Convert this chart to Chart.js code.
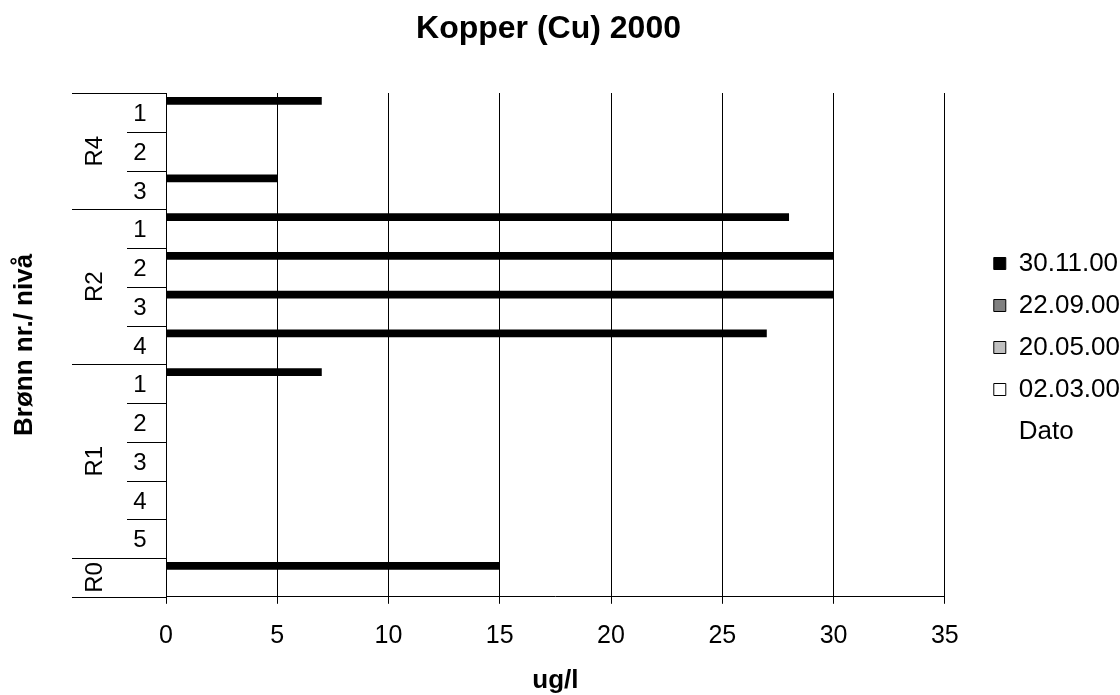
<!DOCTYPE html>
<html>
<head>
<meta charset="utf-8">
<script src="https://cdn.jsdelivr.net/npm/chart.js@4"></script>
<style>
  html, body { margin: 0; padding: 0; background: #fff; }
  canvas { display: block; }
</style>
</head>
<body>
<canvas id="chartKopper" width="1120" height="695"></canvas>
<script>
const wells = ['R4', 'R4', 'R4', 'R2', 'R2', 'R2', 'R2', 'R1', 'R1', 'R1', 'R1', 'R1', 'R0'];
const levels = ['1', '2', '3', '1', '2', '3', '4', '1', '2', '3', '4', '5', ''];
const dates = ['30.11.00', '22.09.00', '20.05.00', '02.03.00'];
const cu301100 = [7, null, 5, 28, 30, 30, 27, 7, null, null, null, null, 15];
const cu220900 = [null, null, null, null, null, null, null, null, null, null, null, null, null];
const cu200500 = [null, null, null, null, null, null, null, null, null, null, null, null, null];
const cu020300 = [null, null, null, null, null, null, null, null, null, null, null, null, null];
const colors = ['#000000', '#808080', '#c0c0c0', '#ffffff'];

Chart.defaults.font.family = '"Liberation Sans", Arial, sans-serif';
Chart.defaults.color = '#000';

const canvas = document.getElementById('chartKopper');
const labels = wells.map((w, i) => w + ' ' + levels[i]);
const series = [cu301100, cu220900, cu200500, cu020300];

// two-level category axis (well + level) and legend placement
const wellAxis = {
    id: 'wellAxis',
    afterLayout(chart) {
        const lg = chart.legend;
        const w = lg.width;
        lg.left = chart.chartArea.right + 33;
        lg.right = lg.left + w;
    },
    afterDraw(chart) {
        const y = chart.scales.y;
        const area = chart.chartArea;
        const ctx = chart.ctx;
        const half = (y.getPixelForValue(1) - y.getPixelForValue(0)) / 2;
        const line = (x0, yy) => {
            const py = Math.round(yy) + 0.5;
            ctx.beginPath();
            ctx.moveTo(x0, py);
            ctx.lineTo(area.left, py);
            ctx.stroke();
        };
        ctx.save();
        ctx.strokeStyle = '#000';
        ctx.lineWidth = 1;
        ctx.fillStyle = '#000';
        ctx.font = '24px "Liberation Sans", Arial, sans-serif';
        ctx.textAlign = 'center';
        ctx.textBaseline = 'middle';
        let start = 0;
        wells.forEach((w, i) => {
            const c = y.getPixelForValue(i);
            if (levels[i]) ctx.fillText(levels[i], area.left - 26, c + 2);
            if (i > 0 && w === wells[i - 1]) line(area.left - 39, c - half);
            if (i === wells.length - 1 || wells[i + 1] !== w) {
                const top = y.getPixelForValue(start) - half;
                const bottom = c + half;
                line(area.left - 94, top);
                if (i === wells.length - 1) line(area.left - 94, bottom);
                ctx.save();
                ctx.translate(area.left - 71, (top + bottom) / 2);
                ctx.rotate(-Math.PI / 2);
                ctx.fillText(w, 0, 0);
                ctx.restore();
                start = i + 1;
            }
        });
        ctx.restore();
    }
};

new Chart(canvas, {
    type: 'bar',
    data: {
        labels: labels,
        datasets: dates.map((d, i) => ({
            label: d,
            data: series[i],
            backgroundColor: colors[i],
            borderColor: '#000',
            borderWidth: 0,
            barPercentage: 1,
            categoryPercentage: 0.8
        }))
    },
    options: {
        indexAxis: 'y',
        responsive: false,
        animation: false,
        devicePixelRatio: 1,
        layout: { padding: { left: 0, right: 23, top: 0, bottom: 0 } },
        plugins: {
            title: {
                display: true,
                text: 'Kopper (Cu) 2000',
                color: '#000',
                font: { size: 32, weight: 'bold' },
                padding: { top: 10, bottom: 44.6 }
            },
            legend: {
                position: 'right',
                labels: {
                    color: '#000',
                    font: { size: 26 },
                    boxWidth: 12,
                    boxHeight: 12,
                    padding: 16,
                    generateLabels(chart) {
                        const items = Chart.defaults.plugins.legend.labels.generateLabels(chart);
                        items.forEach(it => { it.strokeStyle = '#000'; it.lineWidth = 1; });
                        items.push({ text: 'Dato', fillStyle: 'rgba(0,0,0,0)', strokeStyle: 'rgba(0,0,0,0)', lineWidth: 0, hidden: false });
                        return items;
                    }
                }
            },
            tooltip: { enabled: false }
        },
        scales: {
            x: {
                min: 0,
                max: 35,
                ticks: { stepSize: 5, color: '#000', font: { size: 25 }, padding: 17 },
                grid: { color: '#000', lineWidth: 1, tickLength: 7 },
                border: { display: true, color: '#000' },
                title: {
                    display: true,
                    text: 'ug/l',
                    color: '#000',
                    font: { size: 26, weight: 'bold' },
                    padding: { top: -3, bottom: -1 }
                }
            },
            y: {
                grid: { display: false },
                border: { display: false },
                ticks: { display: false },
                title: {
                    display: true,
                    text: 'Brønn nr./ nivå',
                    color: '#000',
                    font: { size: 26, weight: 'bold' },
                    padding: { top: 9, bottom: 0 }
                },
                afterFit(scale) { scale.width = 166; }
            }
        }
    },
    plugins: [wellAxis]
});
</script>
</body>
</html>
